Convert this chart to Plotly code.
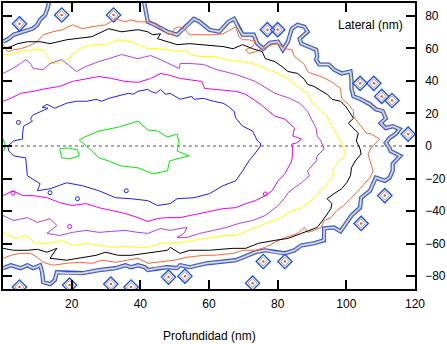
import plotly.graph_objects as go

# ---------------- data (x: depth nm, y: lateral nm) ----------------
x_ticks = [0, 20, 40, 60, 80, 100, 120]
y_ticks = [-80, -60, -40, -20, 0, 20, 40, 60, 80]

green_x = [22.2, 23.7, 27.9, 33.6, 39.3, 42.2, 45.0, 47.9, 50.7, 51.3, 50.7, 54.2, 50.7, 48.5, 47.9, 43.6,
           39.3, 34.2, 30.8, 27.9, 25.9, 22.2]
green_y = [3.7, 5.5, 9.2, 11.6, 15.3, 9.8, 9.2, 5.5, 7.3, 1.8, -3.1, -6.1, -7.9, -9.2, -15.3, -17.1,
           -13.4, -12.2, -9.2, -7.3, -3.1, 3.7]
green2_x = [16.5, 18.8, 21.7, 22.2, 19.4, 17.1, 16.5, None, 0, 0.6, 0.3]
green2_y = [-1.8, -1.2, -2.4, -6.1, -7.9, -7.3, -1.8, None, 4.3, 1.2, -3.1]

blue_x = [1.4, 3.1, 5.7, 5.7, 6.0, 8.6, 8.0, 8.6, 13.1, 11.4, 12.8, 15.1, 18.5, 21.4, 24.5, 27.1, 28.8,
          30.8, 36.5, 37.9, 39.3, 42.2, 43.0, 44.5, 45.9, 47.3, 48.7, 50.2, 51.6, 52.7, 55.0, 55.6, 58.4,
          61.3, 64.1, 65.6, 67.3, 67.8, 69.8, 72.7, 74.1, 75.0,
          75.0, 73.5, 71.6, 69.8, 67.8, 64.1, 60.1, 55.6, 50.7, 48.7, 45.0, 42.2, 37.3, 32.8, 27.9, 23.1,
          18.5, 13.7, 10.0, 10.8, 7.1, 6.6, 3.1, 1.7, 1.4]
blue_y = [0, 3.1, 4.3, 7.3, 12.2, 15.3, 16.5, 18.9, 23.2, 23.8, 25.6, 23.2, 26.3, 27.5, 27.5, 28.7, 27.5,
          29.3, 32.4, 31.8, 33.6, 34.8, 33.6, 32.4, 34.8, 31.8, 32.4, 30.5, 28.7, 29.3, 30.5, 28.7, 29.3,
          27.5, 26.3, 24.4, 21.4, 17.1, 12.2, 9.2, 3.1, 1.8,
          0, -4.3, -9.2, -15.3, -21.4, -24.4, -29.3, -31.8, -32.4, -35.4, -36.6, -33.6, -32.4, -31.8, -27.5, -24.4,
          -22.6, -26.3, -27.5, -23.2, -18.3, -7.3, -6.1, -3.1, 0]

pink_x = [0, 2.3, 5.1, 8.8, 12.8, 16.5, 20.2, 24.2, 27.9, 31.6, 35.6, 39.3, 43.0, 45.9, 48.7, 51.6, 54.4,
          57.9, 58.7, 61.3, 64.1, 67.8, 70.7, 75.0, 79.2, 82.1, 84.9, 84.4, 86.9, 85.5, 84.1, 84.4, 84.1,
          82.1, 80.1, 78.4, 76.4, 73.5, 70.7, 67.8, 64.1, 61.3, 58.4, 54.4, 51.6, 47.9, 45.0, 42.2, 39.3,
          35.6, 31.6, 27.9, 24.2, 20.2, 16.5, 12.8, 8.8, 5.7, 2.9, 0]
pink_y = [27.5, 29.3, 32.4, 33.6, 35.4, 36.6, 39.7, 41.5, 42.7, 41.5, 39.7, 39.1, 41.5, 44.6, 43.4, 41.5, 40.9,
          39.7, 35.4, 34.8, 34.2, 33.6, 31.8, 25.6, 18.3, 16.5, 11.0, 6.1, 4.3, 1.8, 1.2, -3.1, -9.2,
          -17.1, -21.4, -27.5, -30.5, -33.6, -35.4, -37.9, -38.5, -39.7, -40.9, -42.7, -44.0, -44.0, -44.6, -46.4, -44.0,
          -41.5, -39.7, -37.9, -35.4, -36.6, -34.8, -31.8, -30.5, -30.5, -27.5, -30.5]

purple_x = [0, 2.3, 5.1, 6.6, 8.0, 8.8, 11.7, 13.7, 17.1, 19.4, 21.4, 24.2, 27.9, 30.8, 34.5, 39.3, 43.0,
            45.9, 48.7, 51.3, 51.6, 54.4, 58.4, 62.1, 67.8, 73.5, 79.2, 83.5, 86.4, 88.7, 89.8, 91.2, 91.5,
            92.6, 93.5, 91.5, 91.2, 88.7, 89.2, 86.9, 84.9, 83.0, 82.1, 80.1, 76.4, 72.7, 68.7, 65.0, 61.3,
            57.3, 53.6, 50.7, 52.7, 53.6, 51.6, 48.7, 45.9, 44.2, 42.2, 39.3, 35.6, 31.6, 27.9, 24.2, 20.2,
            16.5, 12.8, 15.7, 13.7, 10.0, 7.1, 3.1, 0]
purple_y = [44.6, 47.0, 50.7, 53.1, 50.7, 47.6, 47.0, 50.7, 53.1, 48.9, 45.8, 48.9, 51.9, 53.7, 56.2, 53.7, 55.6,
            53.1, 50.1, 47.6, 50.7, 50.7, 50.1, 47.0, 44.0, 39.7, 32.4, 29.3, 26.3, 21.4, 16.5, 11.0, 6.1,
            3.1, -1.8, -6.1, -9.2, -15.3, -18.3, -22.6, -25.6, -28.7, -31.8, -36.6, -42.7, -45.8, -47.6, -50.1, -51.9,
            -53.7, -56.2, -56.2, -53.7, -50.1, -50.7, -51.9, -50.7, -51.9, -53.7, -53.1, -51.9, -52.5, -53.1, -51.9, -53.1,
            -55.0, -53.7, -48.9, -44.6, -47.0, -44.0, -45.8, -42.7]

yellow_x = [0, 2.3, 5.1, 8.8, 11.7, 13.1, 14.3, 16.5, 18.5, 22.2, 25.9, 29.9, 33.6, 37.3, 42.2, 45.0, 47.9,
            51.6, 53.6, 54.4, 57.3, 61.3, 65.0, 68.7, 72.7, 76.4, 80.1, 82.7, 84.9, 88.7, 90.1, 92.1, 94.4,
            95.8, 96.9, 98.3, 99.2, 99.8, 97.8, 96.4, 95.8, 94.4, 91.5, 89.8, 86.9, 83.0, 81.2, 76.4, 71.6,
            67.8, 65.0, 61.3, 56.4, 51.6, 45.9, 42.2, 39.3, 35.6, 31.6, 27.9, 24.2, 20.2, 17.1, 13.7, 9.4,
            7.1, 3.7, 0]
yellow_y = [56.2, 56.2, 58.0, 59.2, 59.2, 55.0, 50.7, 50.7, 53.1, 59.8, 62.3, 62.3, 65.3, 64.1, 59.8, 59.8, 59.2,
            58.0, 59.2, 56.2, 55.0, 55.0, 53.1, 51.9, 50.7, 47.6, 44.6, 41.5, 37.9, 32.4, 26.3, 22.6, 18.3,
            12.2, 7.9, 3.1, -1.8, -6.1, -9.2, -13.4, -19.5, -23.2, -29.3, -33.6, -37.9, -40.9, -44.0, -47.6, -51.9,
            -55.0, -55.0, -56.2, -58.0, -59.2, -59.8, -62.3, -62.3, -61.7, -62.3, -61.1, -59.8, -61.1, -58.0, -59.8, -59.8,
            -55.0, -56.8, -53.1]

black_x = [0, 2.3, 4.3, 7.1, 10.8, 13.7, 18.5, 21.4, 25.9, 30.8, 34.5, 39.3, 42.2, 43.6, 45.9, 45.0, 47.9,
           50.7, 54.4, 58.4, 64.1, 67.0, 69.8, 72.7, 75.5, 76.4, 79.2, 81.2, 83.0, 85.8, 87.8, 88.7, 90.6,
           92.9, 94.4, 95.8, 98.3, 99.8, 101.2, 102.1, 100.6, 102.1, 103.5, 102.9, 104.0, 104.3, 102.6, 101.5,
           101.2, 100.1, 98.6, 96.4, 94.4, 95.8, 95.5, 93.5, 91.5, 86.9, 83.0, 79.2, 74.4, 70.7, 67.0, 60.1,
           54.4, 51.6, 48.7, 47.9, 42.2, 37.3, 33.6, 29.9, 27.1, 23.1, 18.5, 13.7, 15.7, 12.8, 10.0, 7.1,
           3.1, 0]
black_y = [59.8, 61.1, 62.9, 64.1, 64.1, 62.9, 65.3, 66.0, 67.2, 72.1, 70.2, 71.5, 70.2, 68.4, 69.0, 66.0, 64.1,
           62.3, 62.9, 62.3, 61.1, 59.8, 62.3, 59.8, 58.0, 53.7, 51.9, 48.9, 45.8, 44.6, 40.9, 37.9, 36.6,
           33.6, 31.8, 28.7, 27.5, 24.4, 20.2, 17.1, 14.0, 11.0, 7.9, 3.1, -1.8, -4.9, -9.2, -13.4,
           -18.3, -22.6, -26.3, -29.3, -32.4, -35.4, -38.5, -44.6, -50.1, -53.7, -56.8, -58.0, -59.8, -62.9, -62.9, -64.1,
           -64.1, -66.0, -62.3, -64.1, -66.0, -67.2, -67.2, -65.3, -67.2, -68.4, -70.2, -69.0, -62.9, -65.3, -63.5, -64.1,
           -64.1, -62.9]

orange_x = [0, 1.4, 3.1, 5.1, 7.1, 10.0, 11.7, 14.5, 17.4, 20.2, 23.1, 25.9, 29.9, 32.8, 35.6, 37.3, 39.3,
            42.2, 44.2, 47.9, 49.3, 49.9, 51.3, 52.7, 54.4, 57.3, 61.3, 64.1, 67.0, 67.8, 68.7, 69.8, 71.6,
            73.5, 72.7, 70.7, 71.6, 73.5, 75.5, 78.4, 80.1, 82.1, 84.1, 84.9, 87.8, 88.7, 89.8, 92.6, 95.5,
            98.3, 98.6, 100.6, 102.1, 102.1, 103.5, 104.3, 105.8, 107.2, 109.7, 108.6, 107.2, 106.3, 106.9,
            107.8, 106.9, 104.9, 102.9, 101.2, 99.2, 97.2, 95.5, 93.5, 92.6, 90.6, 88.7, 87.8, 86.9, 85.8,
            84.1, 82.1, 79.2, 76.4, 73.5, 69.8, 67.0, 61.3, 58.4, 53.6, 49.9, 45.0, 42.2, 39.3, 35.6, 32.8,
            28.8, 25.9, 22.2, 18.5, 14.5, 11.7, 10.0, 8.0, 5.1, 2.3, 0]
orange_y = [62.3, 58.0, 59.2, 59.8, 61.1, 64.1, 68.4, 70.2, 71.5, 74.5, 72.1, 73.3, 74.5, 78.2, 76.3, 77.6, 76.3,
            76.3, 75.1, 69.0, 68.4, 72.1, 73.3, 72.1, 68.4, 68.4, 68.4, 69.0, 72.1, 73.3, 67.2, 65.3, 65.3,
            64.1, 61.1, 59.2, 56.8, 58.0, 59.8, 62.3, 62.9, 59.8, 59.2, 55.0, 50.1, 45.8, 44.6, 42.7, 39.7,
            35.4, 29.3, 25.6, 21.4, 18.3, 14.0, 12.2, 7.9, 7.3, 4.3, 1.8, -1.2, -4.9, -9.2,
            -15.3, -19.5, -24.4, -28.7, -32.4, -36.6, -39.7, -44.0, -45.8, -50.1, -51.9, -53.1, -50.1, -51.9, -53.7,
            -55.0, -56.2, -59.2, -62.3, -64.1, -64.1, -66.0, -67.2, -67.2, -68.4, -70.2, -71.5, -72.1, -69.0, -70.2, -71.5,
            -70.2, -72.1, -71.5, -72.1, -73.3, -71.5, -68.4, -66.0, -66.0, -67.2, -69.0]

outer_x = [0, 1.7, 3.1, 6.0, 8.6, 10.0, 10.8, 12.3, 13.1, 13.7, None,
           40.8, 41.6, 42.2, 44.2, 47.9, 50.7, 52.7, 55.6, 57.3, 60.1, 63.0, 65.6, 67.3, 68.7, 69.8, 73.0,
           74.1, 75.8, 77.8, 80.1, 81.5, 83.0, 84.1, 85.8, 87.8, 88.7, 86.4, 86.9, 89.2, 91.2, 91.5, 91.2,
           92.1, 94.9, 96.4, 98.6, 101.2, 101.5, 101.5, 102.1, 104.3, 106.9, 108.6, 110.6, 111.5, 110.0,
           111.5, 113.5, 115.5, 114.3, 112.6, 111.5, 112.6, 112.9, 115.7, 113.5, 113.5, 112.6, 111.2, 108.6,
           107.8, 106.9, 104.3, 104.0, 101.5, 99.8, 98.3, 96.4, 93.5, 93.5, 90.6, 86.9, 84.9, 82.1, 79.2,
           76.4, 73.5, 70.7, 67.8, 59.3, 56.4, 54.4, 51.6, 50.7, 47.9, 45.0, 42.2, 41.3, 39.3, 37.3, 35.6,
           32.8, 27.9, 23.1, 18.5, 15.7, 15.1, 13.7, 11.7, 11.4, 10.8, 8.8, 7.1, 5.1, 2.3, 0]
outer_y = [64.1, 66.0, 68.4, 70.2, 72.1, 74.5, 77.6, 80.6, 85.5, 91.6, None,
           91.6, 82.4, 76.3, 74.5, 70.2, 68.4, 72.1, 78.2, 76.3, 71.5, 70.2, 76.3, 78.2, 72.1, 68.4, 68.4,
           62.9, 59.8, 63.5, 64.1, 59.2, 64.1, 72.1, 74.5, 73.3, 70.2, 66.0, 62.9, 61.1, 59.2, 55.0, 53.1,
           50.1, 50.1, 47.0, 44.6, 45.8, 40.9, 35.4, 30.5, 28.7, 25.6, 22.6, 21.4, 17.1, 14.0,
           11.0, 12.2, 10.4, 7.3, 4.9, 1.8, -1.2, -3.1, -6.1, -11.0, -15.3, -19.5, -21.4, -19.5,
           -23.2, -27.5, -31.8, -37.9, -42.7, -47.6, -52.5, -50.1, -50.7, -58.0, -59.8, -61.1, -64.1, -66.0, -65.3,
           -64.1, -65.3, -67.8, -70.2, -72.1, -73.3, -74.5, -73.3, -75.1, -74.5, -75.1, -76.3, -74.5, -73.3, -74.5, -73.3,
           -75.1, -76.3, -78.2, -78.2, -77.6, -82.4, -84.9, -83.7, -77.6, -73.3, -75.1, -73.3, -75.1, -73.3, -75.1]

# isolated cells on the fringe (centres)
islet_x = [4.8, 17.1, 32.2, 77.0, 80.0, 104.0, 108.0, 110.3, 113.3, 118.0, 111.2, 104.3, 82.1, 75.8,
           72.7, 53.0, 48.2, 37.3, 31.4, 19.4, 4.8]
islet_y = [75.1, 80.5, 80.5, 71.5, 71.5, 38.5, 38.5, 30.5, 28.0, 7.3, -30.5, -47.6, -71.0, -71.0,
           -84.3, -80.0, -80.6, -86.7, -84.9, -85.5, -86.7]

# tiny inner loops
blue_dot_x = [13.7, 21.7, 35.9, 4.5]
blue_dot_y = [-28.7, -32.4, -27.5, 14.5]
pink_dot_x = [19.4, 2.9, 76.4]
pink_dot_y = [-49.5, -29.0, -29.5]

fig = go.Figure()


def add_line(x, y, color, width=1.0):
    fig.add_trace(go.Scatter(x=x, y=y, mode="lines", line=dict(color=color, width=width),
                             hoverinfo="skip", showlegend=False, connectgaps=False))


# outer fringe: blue / grey band
add_line(outer_x, outer_y, "#1848ff", 4.2)
add_line(outer_x, outer_y, "#a0a0a0", 2.6)
add_line(outer_x, outer_y, "#f4f4f4", 0.9)

fig.add_trace(go.Scatter(x=islet_x, y=islet_y, mode="markers", hoverinfo="skip", showlegend=False,
                         marker=dict(symbol="diamond-open", size=11, color="#1848ff", line=dict(width=1.3))))
fig.add_trace(go.Scatter(x=islet_x, y=islet_y, mode="markers", hoverinfo="skip", showlegend=False,
                         marker=dict(symbol="diamond-open", size=7, color="#a0a0a0", line=dict(width=1.0))))
fig.add_trace(go.Scatter(x=islet_x, y=islet_y, mode="markers", hoverinfo="skip", showlegend=False,
                         marker=dict(symbol="circle", size=2.5, color="#ff5030")))

add_line(orange_x, orange_y, "#ff6633")
add_line(black_x, black_y, "#000000")
add_line(yellow_x, yellow_y, "#ffff00")
add_line(purple_x, purple_y, "#b040f8")
add_line(pink_x, pink_y, "#f000f0")
add_line(blue_x, blue_y, "#1f1fff")
add_line(green_x, green_y, "#00ee00")
add_line(green2_x, green2_y, "#00ee00")

fig.add_trace(go.Scatter(x=blue_dot_x, y=blue_dot_y, mode="markers", hoverinfo="skip", showlegend=False,
                         marker=dict(symbol="circle-open", size=4, color="#1f1fff", line=dict(width=1))))
fig.add_trace(go.Scatter(x=pink_dot_x, y=pink_dot_y, mode="markers", hoverinfo="skip", showlegend=False,
                         marker=dict(symbol="circle-open", size=4, color="#f000f0", line=dict(width=1))))

# dotted zero line
fig.add_shape(type="line", xref="x", yref="y", x0=0, x1=120, y0=0, y1=0, layer="below",
              line=dict(color="#555555", width=1, dash="dot"))

fig.update_layout(
    width=447, height=344,
    margin=dict(l=2, r=24, t=1, b=55),
    paper_bgcolor="white", plot_bgcolor="white",
    font=dict(family="Liberation Sans, Arial, sans-serif", size=12, color="black"),
    showlegend=False,
    annotations=[
        dict(text="Profundidad (nm)", xref="paper", yref="paper", x=0.5, y=0, xanchor="center",
             yanchor="middle", yshift=-47, showarrow=False, font=dict(size=12)),
        dict(text="Lateral (nm)", xref="paper", yref="paper", x=(413 - 2) / 421, y=(289 - 23) / 288,
             xanchor="right", yanchor="middle", showarrow=False, font=dict(size=12)),
    ],
)
fig.update_xaxes(range=[0, 120], tickvals=x_ticks, ticks="inside", ticklen=9, tickwidth=1.5,
                 tickcolor="black", showline=True, linewidth=1.5, linecolor="black", mirror="ticks",
                 showgrid=False, zeroline=False, ticklabelstandoff=3)
fig.update_yaxes(range=[-87.9, 87.9], tickvals=y_ticks, side="right", ticks="inside", ticklen=9,
                 tickwidth=1.5, tickcolor="black", showline=True, linewidth=1.5, linecolor="black",
                 mirror="ticks", showgrid=False, zeroline=False, ticklabelstandoff=6)

fig.write_html("out.html")
